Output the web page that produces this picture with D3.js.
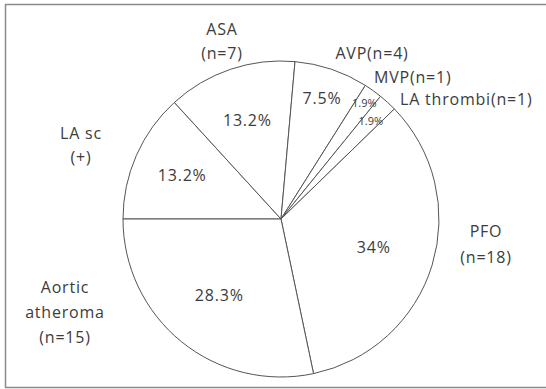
<!DOCTYPE html>
<html>
<head>
<meta charset="utf-8">
<script src="https://cdn.jsdelivr.net/npm/d3@7"></script>
<style>
  html, body { margin: 0; padding: 0; background: #fff; }
  svg { display: block; }
  text { font-family: "Open Sans", "DejaVu Sans", sans-serif; fill: #3c3c3c; }
</style>
</head>
<body>
<svg id="chart" width="546" height="389"></svg>
<script>
// ---- data ----
const categories = ["LA sc", "ASA", "AVP", "MVP", "LA thrombi", "PFO", "Aortic atheroma"];
const counts     = [7, 7, 4, 1, 1, 18, 15];
const pctLabels  = ["13.2%", "13.2%", "7.5%", "1.9%", "1.9%", "34%", "28.3%"];
const nameLabels = [["LA sc", "(+)"], ["ASA", "(n=7)"], ["AVP(n=4)"], ["MVP(n=1)"], ["LA thrombi(n=1)"], ["PFO", "(n=18)"], ["Aortic", "atheroma", "(n=15)"]];

// ---- layout ----
const W = 546, H = 389;
const cx = 281, cy = 219, R = 158;
const pctRadius = [108, 105, 128, 143, 133, 97, 98];
const pctSize   = [16, 16, 16, 11, 11, 16, 16];
const nameLayout = [
  {x: 81,  y: 133, anchor: "middle"},
  {x: 222, y: 29,  anchor: "middle"},
  {x: 372, y: 53,  anchor: "middle"},
  {x: 374, y: 77,  anchor: "start"},
  {x: 400, y: 99,  anchor: "start"},
  {x: 486, y: 231, anchor: "middle"},
  {x: 65,  y: 287, anchor: "middle"}
];
const lineGap = [24, 24, 0, 0, 0, 26, 25];

const svg = d3.select("#chart");

// frame (right edge falls outside the picture)
svg.append("path")
  .attr("d", `M${W + 2},4.5 H5.5 V387.5 H${W + 2}`)
  .attr("fill", "none").attr("stroke", "#8a8a8a").attr("stroke-width", 1.5);

const pie = d3.pie().sort(null).value(d => d)
  .startAngle(-Math.PI / 2).endAngle(1.5 * Math.PI);
const arcs = pie(counts);
const arc = d3.arc().innerRadius(0).outerRadius(R);

const g = svg.append("g").attr("transform", `translate(${cx},${cy})`);
g.selectAll("path.slice").data(arcs).enter().append("path")
  .attr("class", "slice")
  .attr("d", arc)
  .attr("fill", "#fff")
  .attr("stroke", "#555")
  .attr("stroke-width", 1)
  .attr("stroke-linejoin", "round");

// percentage labels
g.selectAll("text.pct").data(arcs).enter().append("text")
  .attr("class", "pct")
  .attr("x", (d, i) => {
    const a = (d.startAngle + d.endAngle) / 2;
    return Math.sin(a) * pctRadius[i];
  })
  .attr("y", (d, i) => {
    const a = (d.startAngle + d.endAngle) / 2;
    return -Math.cos(a) * pctRadius[i];
  })
  .attr("text-anchor", "middle")
  .attr("dominant-baseline", "central")
  .attr("font-size", (d, i) => pctSize[i] + "px")
  .style("letter-spacing", (d, i) => pctSize[i] > 12 ? "0.8px" : "0px")
  .text((d, i) => pctLabels[i]);

// category labels
nameLabels.forEach((lines, i) => {
  const L = nameLayout[i];
  const t = svg.append("text")
    .attr("text-anchor", L.anchor)
    .attr("font-size", "16px")
    .style("letter-spacing", "0.8px");
  lines.forEach((s, j) => {
    t.append("tspan")
      .attr("x", L.x)
      .attr("y", L.y + j * lineGap[i])
      .attr("dominant-baseline", "central")
      .text(s);
  });
});
</script>
</body>
</html>
